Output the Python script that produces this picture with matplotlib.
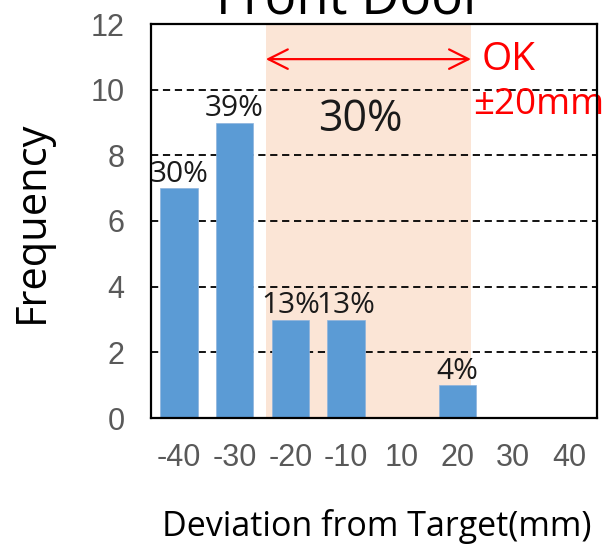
import matplotlib
matplotlib.use('Agg')
import matplotlib.pyplot as plt
import numpy as np

categories = ['-40', '-30', '-20', '-10', '10', '20', '30', '40']
frequency = [7, 9, 3, 3, 0, 1, 0, 0]
pct_labels = ['30%', '39%', '13%', '13%', '', '4%', '', '']
ok_share = '30%'
y_ticks = [0, 2, 4, 6, 8, 10, 12]
ok_range = (1.56, 5.24)   # shaded band in category index units
arrow_y = 10.93

TEXT_FONT = ['Open Sans', 'DejaVu Sans']
TICK_FONT = ['Liberation Sans', 'DejaVu Sans']

fig = plt.figure(figsize=(6.05, 5.46), dpi=100)
ax = fig.add_axes([151/605, 1 - 418/546, (597-151)/605, (418-24)/546])

x = np.arange(len(categories))
ax.axvspan(ok_range[0], ok_range[1], color='#FBE5D6', zorder=0, lw=0)
for yv in y_ticks[1:-1]:
    ax.axhline(yv, color='black', ls=(0, (4, 2.6)), lw=1.3, zorder=1)
ax.bar(x, frequency, width=0.67, color='#5B9BD5', zorder=2,
       edgecolor='#8DB3DD', linewidth=0.5)

for xi, f, lab in zip(x, frequency, pct_labels):
    if lab:
        ax.annotate(lab, (xi, f), xytext=(0, 4.5), textcoords='offset points',
                    ha='center', va='baseline', fontsize=21.5,
                    family=TEXT_FONT, color='#1a1a1a', zorder=4)

ax.text(3.25, 9.08, ok_share, ha='center', va='center', fontsize=31,
        family=TEXT_FONT, color='#1a1a1a', zorder=4)

ax.annotate('', xy=(ok_range[1], arrow_y), xytext=(ok_range[0], arrow_y),
            arrowprops=dict(arrowstyle='<->,head_length=1.4,head_width=0.7',
                            color='red', lw=1.6, shrinkA=0, shrinkB=0,
                            mutation_scale=10), zorder=5)
ax.text(5.43, 10.9, 'OK', ha='left', va='center', fontsize=28,
        family=TEXT_FONT, color='red', zorder=5)
ax.text(5.27, 9.53, '±20mm', ha='left', va='center', fontsize=26.5,
        family=TEXT_FONT, color='red', zorder=5, clip_on=False)

ax.set_xlim(-0.5, 7.5)
ax.set_ylim(0, 12)
ax.set_yticks(y_ticks)
ax.set_xticks(x)
ax.set_xticklabels(categories)
ax.tick_params(length=0, labelsize=22, labelcolor='#595959')
ax.tick_params(axis='x', pad=18)
ax.tick_params(axis='y', pad=19)
for lab in ax.get_xticklabels() + ax.get_yticklabels():
    lab.set_family(TICK_FONT)
for s in ax.spines.values():
    s.set_linewidth(1.6)
    s.set_color('black')
    s.set_zorder(6)

fig.text(350/605, 1 - 14/546, 'Front Door', ha='center', va='baseline',
         fontsize=38, family=TEXT_FONT, color='black')
fig.text(32/605, 1 - 222/546, 'Frequency', rotation=90, ha='center',
         va='center', fontsize=30, family=TEXT_FONT, color='black')
fig.text(377/605, 1 - 527/546, 'Deviation from Target(mm)', ha='center',
         va='center', fontsize=24.5, family=TEXT_FONT, color='black')

fig.savefig('out.png', dpi=100)
